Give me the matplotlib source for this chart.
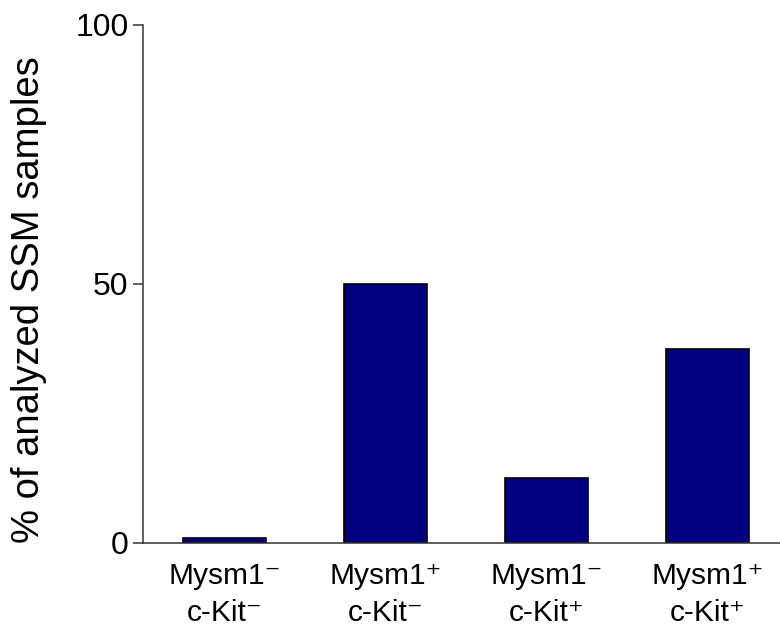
import matplotlib
matplotlib.use("Agg")
import matplotlib.pyplot as plt

categories = ["Mysm1\u207b\nc-Kit\u207b", "Mysm1\u207a\nc-Kit\u207b",
              "Mysm1\u207b\nc-Kit\u207a", "Mysm1\u207a\nc-Kit\u207a"]
values = [1.0, 50.0, 12.5, 37.5]
yticks = [0, 50, 100]
ylabel = "% of analyzed SSM samples"

plt.rcParams['font.family'] = ['Liberation Sans', 'DejaVu Sans']

fig = plt.figure(figsize=(7.8, 6.31), dpi=100)
ax = fig.add_axes([0.1833, 0.1395, 0.8167, 0.8209])

x = list(range(len(values)))
ax.bar(x, values, width=0.51, color='#000080', edgecolor='black', linewidth=1.2)

ax.set_xlim(-0.506, 3.45)
ax.set_ylim(0, 100)
ax.set_yticks(yticks)
ax.set_yticklabels([str(t) for t in yticks], fontsize=23)
ax.set_xticks(x)
ax.set_xticklabels(categories, fontsize=21.5, linespacing=1.38)
ax.tick_params(axis='x', length=0, pad=14)
ax.tick_params(axis='y', direction='out', length=7.5, width=1.1, pad=3, color='#333333')

for s in ['top', 'right']:
    ax.spines[s].set_visible(False)
for s in ['left', 'bottom']:
    ax.spines[s].set_linewidth(1.1)
    ax.spines[s].set_color('#333333')

ax.set_ylabel(ylabel, fontsize=27.5)
ax.yaxis.set_label_coords(-0.150, 0.47)

fig.savefig("out.png", dpi=100)
